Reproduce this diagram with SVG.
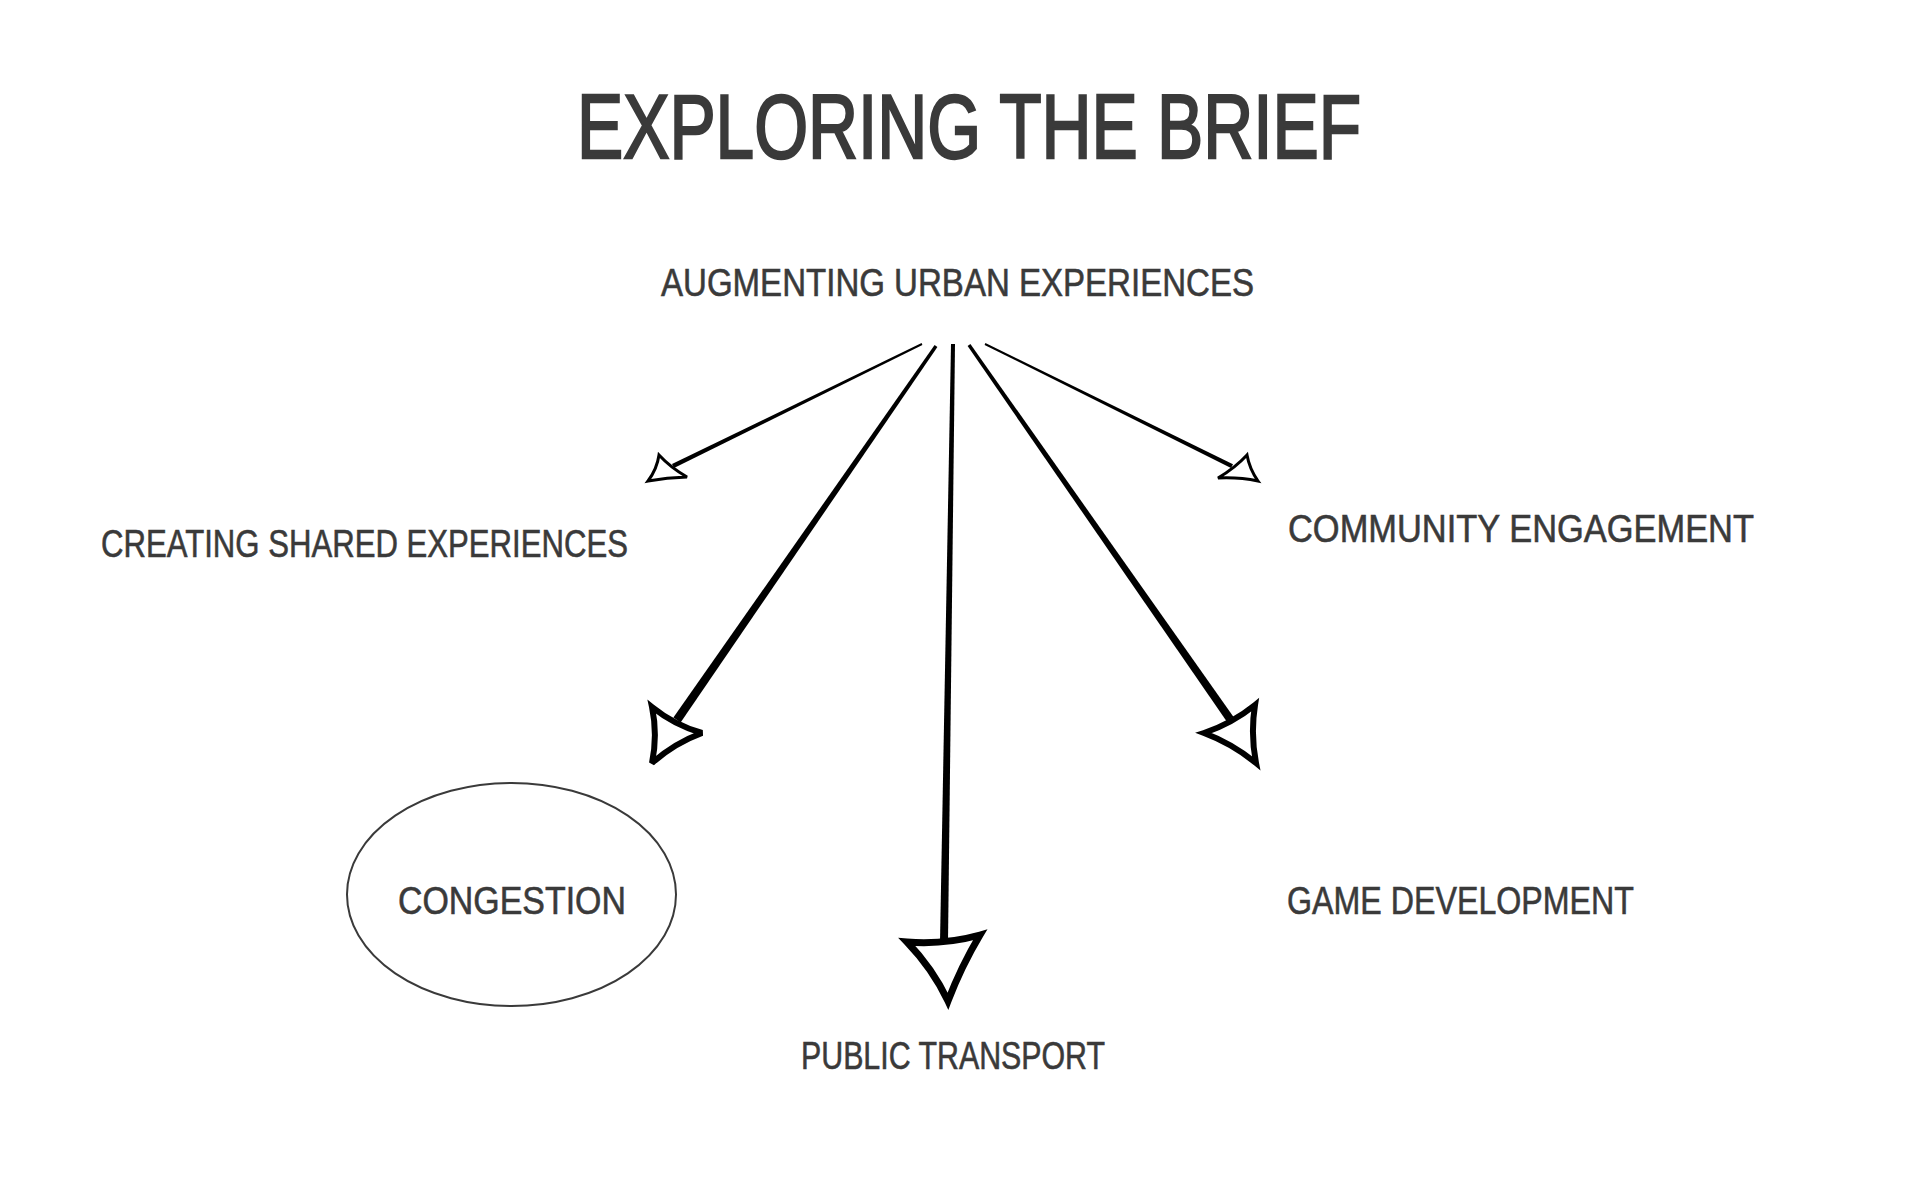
<svg xmlns="http://www.w3.org/2000/svg" width="1920" height="1200" viewBox="0 0 1920 1200">
<style>
  .lbl { font-family: "Liberation Sans", Arial, sans-serif; fill: #3a3a3a; font-size: 39px; stroke: #3a3a3a; stroke-width: 0.6px; }
  .title { font-family: "Liberation Sans", Arial, sans-serif; fill: #3a3a3a; font-size: 91px; stroke: #3a3a3a; stroke-width: 2.4px; }
  .shaft { fill: #000; stroke: none; }
  .head { fill: none; stroke: #000; stroke-linejoin: miter; stroke-miterlimit: 3; }
  .thin { stroke-width: 3; }
  .thick { stroke-width: 6; }
  .thicker { stroke-width: 7; }
</style>
<rect x="0" y="0" width="1920" height="1200" fill="#fff"/>

<g id="title">
  <text class="title" x="577" y="158" textLength="784" lengthAdjust="spacingAndGlyphs">EXPLORING THE BRIEF</text>
</g>

<g id="node-augmenting">
  <text class="lbl" x="661" y="296" textLength="593" lengthAdjust="spacingAndGlyphs">AUGMENTING URBAN EXPERIENCES</text>
</g>

<g id="node-creating">
  <text class="lbl" x="101" y="557" textLength="527" lengthAdjust="spacingAndGlyphs">CREATING SHARED EXPERIENCES</text>
</g>

<g id="node-community">
  <text class="lbl" x="1288" y="542" textLength="466" lengthAdjust="spacingAndGlyphs">COMMUNITY ENGAGEMENT</text>
</g>

<g id="node-congestion">
  <ellipse cx="511.5" cy="894.5" rx="164.5" ry="111.5" fill="none" stroke="#3a3a3a" stroke-width="2"/>
  <text class="lbl" x="398" y="914" textLength="228" lengthAdjust="spacingAndGlyphs">CONGESTION</text>
</g>

<g id="node-game">
  <text class="lbl" x="1287" y="914" textLength="347" lengthAdjust="spacingAndGlyphs">GAME DEVELOPMENT</text>
</g>

<g id="node-public">
  <text class="lbl" x="801" y="1069" textLength="304" lengthAdjust="spacingAndGlyphs">PUBLIC TRANSPORT</text>
</g>

<g id="connectors">
  <!-- to CREATING SHARED EXPERIENCES -->
  <polygon class="shaft" points="922.4,344.9 674,468 672,464 921.6,343.1"/>
  <path class="head thin" d="M659,455 Q670.5,467.5 687,477 Q667,477.5 648,481 Q657,469 659,455 Z"/>

  <!-- to CONGESTION -->
  <polygon class="shaft" points="937.4,347 680.6,722.5 673.4,717.5 934.6,345"/>
  <path class="head thick" d="M652,707 Q674.4,725.1 702,733 Q674.4,743.2 652,763 Q657.8,734.8 652,707 Z"/>

  <!-- to PUBLIC TRANSPORT -->
  <polygon class="shaft" points="955,344 948,942 940,942 951,344"/>
  <path class="head thicker" d="M907,942 Q944.6,944.9 980,935 Q961.3,966.3 948,1001 Q932.8,968.8 907,942 Z"/>

  <!-- to GAME DEVELOPMENT -->
  <polygon class="shaft" points="970.4,344 1233.4,716.7 1226.6,721.3 967.6,346"/>
  <path class="head thick" d="M1204,733 Q1232.2,723.4 1255,705 Q1250.4,734 1256,763 Q1232.5,743.7 1204,733 Z"/>

  <!-- to COMMUNITY ENGAGEMENT -->
  <polygon class="shaft" points="985.4,343.1 1233,464.2 1231,468 984.6,344.9"/>
  <path class="head thin" d="M1218,478 Q1235,468 1247,455 Q1249.5,469 1258,481 Q1239,477 1218,478 Z"/>
</g>
</svg>
